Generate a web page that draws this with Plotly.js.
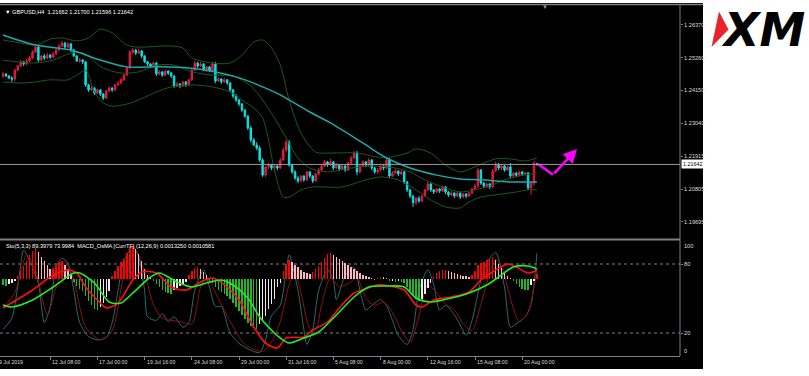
<!DOCTYPE html>
<html>
<head>
<meta charset="utf-8">
<script src="https://cdn.plot.ly/plotly-3.0.1.min.js"></script>
<style>
html,body{margin:0;padding:0;background:#ffffff;overflow:hidden;}
#chart{width:809px;height:376px;}
</style>
</head>
<body>
<div id="chart"></div>
<script>
// ================= DATA =================
const symbol = "GBPUSD,H4";

const open = [1.2464,1.2471,1.2464,1.2457,1.2454,1.2484,1.2498,1.2512,1.2505,1.2515,
 1.2525,1.2545,1.2562,1.2518,1.2532,1.2525,1.2535,1.2528,1.2539,1.2552,
 1.2566,1.2576,1.2562,1.2573,1.2552,1.2532,1.2515,1.2518,1.2512,1.2434,
 1.2417,1.2423,1.2406,1.2417,1.2403,1.2389,1.2413,1.2423,1.2417,1.2434,
 1.2440,1.2451,1.2467,1.2491,1.2545,1.2552,1.2542,1.2549,1.2532,1.2512,
 1.2505,1.2498,1.2508,1.2471,1.2478,1.2467,1.2481,1.2474,1.2464,1.2430,
 1.2437,1.2430,1.2444,1.2434,1.2451,1.2484,1.2508,1.2498,1.2505,1.2484,
 1.2495,1.2481,1.2505,1.2447,1.2454,1.2444,1.2451,1.2440,1.2417,1.2396,
 1.2383,1.2369,1.2349,1.2328,1.2288,1.2247,1.2230,1.2220,1.2179,1.2128,
 1.2156,1.2162,1.2152,1.2159,1.2152,1.2179,1.2213,1.2240,1.2162,1.2139,
 1.2118,1.2108,1.2125,1.2112,1.2139,1.2125,1.2108,1.2132,1.2145,1.2159,
 1.2173,1.2162,1.2173,1.2152,1.2162,1.2149,1.2159,1.2145,1.2169,1.2186,
 1.2203,1.2139,1.2159,1.2173,1.2162,1.2179,1.2152,1.2139,1.2145,1.2159,
 1.2152,1.2179,1.2125,1.2135,1.2142,1.2132,1.2139,1.2105,1.2078,1.2057,
 1.2034,1.2050,1.2040,1.2057,1.2078,1.2098,1.2078,1.2071,1.2081,1.2074,
 1.2088,1.2071,1.2061,1.2067,1.2057,1.2067,1.2054,1.2064,1.2057,1.2067,
 1.2081,1.2091,1.2145,1.2101,1.2091,1.2098,1.2088,1.2142,1.2166,1.2152,
 1.2159,1.2145,1.2156,1.2125,1.2135,1.2128,1.2139,1.2132,1.2135,1.2084,
 1.2101,1.21662];

const high = [1.2478,1.2474,1.2467,1.2464,1.2488,1.2501,1.2518,1.2515,1.2522,1.2532,
 1.2552,1.2569,1.2566,1.2535,1.2539,1.2542,1.2539,1.2545,1.2559,1.2573,
 1.2583,1.2579,1.2579,1.2576,1.2556,1.2535,1.2525,1.2522,1.2515,1.2437,
 1.2430,1.2427,1.2420,1.2420,1.2406,1.2417,1.2430,1.2427,1.2437,1.2447,
 1.2457,1.2471,1.2498,1.2552,1.2559,1.2556,1.2556,1.2552,1.2535,1.2515,
 1.2508,1.2512,1.2512,1.2484,1.2481,1.2484,1.2484,1.2478,1.2467,1.2444,
 1.2440,1.2447,1.2447,1.2454,1.2491,1.2515,1.2512,1.2512,1.2508,1.2498,
 1.2498,1.2512,1.2512,1.2461,1.2457,1.2457,1.2454,1.2444,1.2420,1.2403,
 1.2386,1.2373,1.2352,1.2332,1.2295,1.2254,1.2240,1.2227,1.2186,1.2159,
 1.2169,1.2166,1.2166,1.2162,1.2186,1.2220,1.2247,1.2247,1.2166,1.2145,
 1.2125,1.2128,1.2128,1.2142,1.2142,1.2128,1.2135,1.2152,1.2166,1.2179,
 1.2176,1.2183,1.2176,1.2169,1.2166,1.2166,1.2162,1.2173,1.2193,1.2210,
 1.2210,1.2162,1.2179,1.2176,1.2186,1.2183,1.2156,1.2152,1.2166,1.2162,
 1.2189,1.2186,1.2142,1.2149,1.2145,1.2145,1.2142,1.2108,1.2081,1.2061,
 1.2054,1.2057,1.2061,1.2081,1.2105,1.2101,1.2081,1.2084,1.2084,1.2091,
 1.2091,1.2074,1.2074,1.2071,1.2071,1.2071,1.2067,1.2067,1.2071,1.2084,
 1.2098,1.2152,1.2149,1.2105,1.2101,1.2101,1.2149,1.2173,1.2169,1.2162,
 1.2162,1.2159,1.2169,1.2139,1.2139,1.2142,1.2142,1.2139,1.2139,1.2105,
 1.2176,1.21700];

const low = [1.2457,1.2461,1.2454,1.2444,1.2447,1.2481,1.2495,1.2498,1.2501,1.2512,
 1.2522,1.2542,1.2512,1.2515,1.2518,1.2522,1.2522,1.2525,1.2535,1.2549,
 1.2562,1.2556,1.2559,1.2545,1.2528,1.2512,1.2508,1.2505,1.2427,1.2410,
 1.2413,1.2400,1.2403,1.2396,1.2383,1.2386,1.2410,1.2410,1.2413,1.2430,
 1.2437,1.2447,1.2464,1.2488,1.2539,1.2535,1.2539,1.2525,1.2508,1.2498,
 1.2491,1.2495,1.2464,1.2467,1.2461,1.2464,1.2467,1.2457,1.2423,1.2427,
 1.2423,1.2427,1.2427,1.2430,1.2447,1.2481,1.2491,1.2495,1.2481,1.2478,
 1.2478,1.2478,1.2440,1.2444,1.2437,1.2440,1.2434,1.2410,1.2389,1.2376,
 1.2362,1.2342,1.2322,1.2281,1.2240,1.2227,1.2213,1.2173,1.2122,1.2122,
 1.2149,1.2145,1.2145,1.2145,1.2149,1.2176,1.2206,1.2156,1.2132,1.2112,
 1.2101,1.2105,1.2105,1.2108,1.2118,1.2101,1.2105,1.2128,1.2142,1.2156,
 1.2156,1.2159,1.2145,1.2149,1.2142,1.2145,1.2139,1.2142,1.2166,1.2183,
 1.2128,1.2135,1.2156,1.2156,1.2159,1.2145,1.2132,1.2132,1.2142,1.2145,
 1.2149,1.2118,1.2122,1.2132,1.2125,1.2128,1.2098,1.2071,1.2050,1.2020,
 1.2027,1.2034,1.2037,1.2054,1.2074,1.2071,1.2064,1.2067,1.2067,1.2071,
 1.2064,1.2054,1.2057,1.2050,1.2054,1.2047,1.2050,1.2050,1.2054,1.2064,
 1.2078,1.2084,1.2095,1.2084,1.2084,1.2081,1.2084,1.2139,1.2145,1.2145,
 1.2139,1.2142,1.2118,1.2122,1.2122,1.2125,1.2125,1.2128,1.2078,1.2061,
 1.2091,1.21596];

const close = [1.2471,1.2464,1.2457,1.2454,1.2484,1.2498,1.2512,1.2505,1.2515,1.2525,
 1.2545,1.2562,1.2518,1.2532,1.2525,1.2535,1.2528,1.2539,1.2552,1.2566,
 1.2576,1.2562,1.2573,1.2552,1.2532,1.2515,1.2518,1.2512,1.2434,1.2417,
 1.2423,1.2406,1.2417,1.2403,1.2389,1.2413,1.2423,1.2417,1.2434,1.2440,
 1.2451,1.2467,1.2491,1.2545,1.2552,1.2542,1.2549,1.2532,1.2512,1.2505,
 1.2498,1.2508,1.2471,1.2478,1.2467,1.2481,1.2474,1.2464,1.2430,1.2437,
 1.2430,1.2444,1.2434,1.2451,1.2484,1.2508,1.2498,1.2505,1.2484,1.2495,
 1.2481,1.2505,1.2447,1.2454,1.2444,1.2451,1.2440,1.2417,1.2396,1.2383,
 1.2369,1.2349,1.2328,1.2288,1.2247,1.2230,1.2220,1.2179,1.2128,1.2156,
 1.2162,1.2152,1.2159,1.2152,1.2179,1.2213,1.2240,1.2162,1.2139,1.2118,
 1.2108,1.2125,1.2112,1.2139,1.2125,1.2108,1.2132,1.2145,1.2159,1.2173,
 1.2162,1.2173,1.2152,1.2162,1.2149,1.2159,1.2145,1.2169,1.2186,1.2203,
 1.2139,1.2159,1.2173,1.2162,1.2179,1.2152,1.2139,1.2145,1.2159,1.2152,
 1.2179,1.2125,1.2135,1.2142,1.2132,1.2139,1.2105,1.2078,1.2057,1.2034,
 1.2050,1.2040,1.2057,1.2078,1.2098,1.2078,1.2071,1.2081,1.2074,1.2088,
 1.2071,1.2061,1.2067,1.2057,1.2067,1.2054,1.2064,1.2057,1.2067,1.2081,
 1.2091,1.2145,1.2101,1.2091,1.2098,1.2088,1.2142,1.2166,1.2152,1.2159,
 1.2145,1.2156,1.2125,1.2135,1.2128,1.2139,1.2132,1.2135,1.2084,1.2101,
 1.2169,1.21642];

// Bollinger bands (upper / middle / lower), sampled at bar positions
const bbUpperBars = [0,6,11,16,20,25,29,33,37,42,46,56,61,64,71,77,81,85,88,91,94,97,101,106,111,120,127,131,137,140,145,150,155,159,163,167,172,177,181];
const bbUpper = [1.2586,1.2576,1.2569,1.2589,1.2593,1.2583,1.2593,1.2623,1.2610,1.2569,1.2562,1.2566,1.2559,1.2525,1.2508,1.2508,1.2535,1.2579,1.2586,1.2559,1.2501,1.2383,1.2271,1.2206,1.2203,1.2203,1.2189,1.2189,1.2203,1.2217,1.2203,1.2162,1.2139,1.2152,1.2169,1.2183,1.2183,1.2176,1.2186];
const bbMidBars = [0,10,17,23,28,31,34,40,46,52,58,64,71,78,84,88,92,96,100,104,110,118,126,133,138,143,150,155,160,165,170,175,181];
const bbMid = [1.2518,1.2508,1.2518,1.2542,1.2539,1.2512,1.2491,1.2474,1.2478,1.2501,1.2501,1.2478,1.2467,1.2464,1.2430,1.2383,1.2322,1.2254,1.2186,1.2152,1.2139,1.2152,1.2159,1.2152,1.2139,1.2112,1.2084,1.2071,1.2078,1.2091,1.2112,1.2125,1.2135];
const bbLowerBars = [0,6,11,16,22,25,28,31,34,37,42,46,52,57,64,71,77,81,85,88,90,92,95,97,101,105,115,123,128,134,140,145,150,155,158,162,167,174,178,181];
const bbLower = [1.2444,1.2440,1.2444,1.2451,1.2451,1.2467,1.2484,1.2410,1.2373,1.2362,1.2369,1.2383,1.2410,1.2427,1.2434,1.2427,1.2410,1.2383,1.2356,1.2322,1.2247,1.2145,1.2054,1.2054,1.2078,1.2088,1.2088,1.2112,1.2122,1.2112,1.2078,1.2044,1.2020,1.2017,1.2037,1.2054,1.2061,1.2071,1.2078,1.2078];

// Long moving average (cyan)
const maBars = [0,11,23,33,42,53,63,72,79,85,94,97,104,111,122,130,138,147,155,162,172,181];
const maVals = [1.2603,1.2569,1.2552,1.2518,1.2495,1.2495,1.2491,1.2478,1.2461,1.2440,1.2400,1.2383,1.2342,1.2305,1.2237,1.2186,1.2152,1.2128,1.2115,1.2112,1.2105,1.2105];

// Magenta forecast arrow
const arrowBars = [181.4, 186.4, 194.6];
const arrowPrices = [1.2166, 1.2129, 1.2217];

// Stochastic (5,3,3)
const stoMainBars = [0,3,5,7,9,12,14,16,18,20,22,24,26,29,32,35,37,39,41,44,46,48,49,52,54,56,58,61,63,65,68,70,72,74,77,80,84,87,89,91,94,96,97,100,102,103,105,107,110,112,113,116,119,121,123,125,128,130,132,134,137,139,141,144,146,148,150,153,155,157,159,162,164,167,170,172,174,177,179,181];
const stoMain = [23,33,60,92,83,63,29,43,77,85,81,57,29,17,14,16,29,57,83,95,86,57,34,31,37,30,34,25,29,57,75,60,43,43,20,11,5,3,14,35,44,75,88,57,23,10,23,57,75,66,49,70,77,57,40,44,49,44,31,18,10,23,57,75,62,40,44,36,27,18,31,66,81,90,60,25,28,34,45,89.3979];
const stoSignalBars = [0,4,8,11,15,18,21,24,28,33,37,41,45,48,51,54,60,64,67,69,73,77,82,88,91,94,97,99,101,104,106,108,111,114,117,120,123,126,129,132,135,138,141,144,147,150,153,156,159,162,165,167,169,172,175,178,180,181];
const stoSignal = [42,55,88,75,36,60,82,66,25,14,22,70,92,72,45,33,30,28,60,68,50,30,10,4,12,30,62,72,55,24,22,45,68,60,63,68,50,44,47,38,22,12,35,62,55,45,40,28,22,45,72,84,78,50,30,38,60,73.9984];
const stoLevels = [80, 20];

// MACD_OsMA (12,26,9)
const osma = [-0.0009,-0.00105,-0.00075,-0.0006,-0.0003,0.00045,0.0012,0.00195,0.0027,0.0036,
 0.0042,0.00465,0.00405,0.0033,0.0027,0.0021,0.0015,0.00165,0.0021,0.00255,
 0.0027,0.0021,0.0015,0.00075,-0.00045,-0.00105,-0.0015,-0.0018,-0.00255,-0.0033,
 -0.0039,-0.0045,-0.00465,-0.0042,-0.0036,-0.0027,-0.0018,0.00045,0.0012,0.00195,
 0.00255,0.003,0.0039,0.0048,0.00495,0.0045,0.00375,0.0027,0.0015,0.0006,
 0.00015,-0.0003,-0.00075,-0.0012,-0.00165,-0.00195,-0.0021,-0.00225,-0.00165,-0.00135,
 -0.00105,-0.00075,-0.00045,0.0006,0.0012,0.00165,0.0018,0.0015,0.00105,0.0006,
 -0.0003,-0.0006,-0.0012,-0.00165,-0.00195,-0.00225,-0.00255,-0.003,-0.0036,-0.0042,
 -0.0048,-0.0054,-0.006,-0.0066,-0.00705,-0.00735,-0.0075,-0.00675,-0.00615,-0.00555,
 -0.0045,-0.00375,-0.003,-0.0012,-0.0006,0.0012,0.00225,0.00285,0.00255,0.0021,
 0.0018,0.00135,0.00105,0.0009,0.00075,0.00105,0.0015,0.00195,0.00255,0.00315,
 0.00375,0.0039,0.0036,0.0033,0.003,0.0027,0.0024,0.0021,0.0018,0.0015,
 0.0012,0.0009,0.0006,0.00045,0.0003,0.00015,-0.00015,0.00015,0.0003,0.00025,
 0.00015,-0.0003,-0.00025,-0.00045,-0.0003,-0.00045,-0.0006,-0.0012,-0.0018,-0.0024,
 -0.003,-0.0033,-0.003,-0.00225,-0.00135,-0.0006,0.00045,0.0009,0.0012,0.00135,
 0.0014,0.0012,0.00105,0.0009,0.00075,0.0006,0.00045,0.0004,0.0003,0.0006,
 0.0012,0.0021,0.0024,0.00255,0.00285,0.00315,0.0033,0.00285,0.00225,0.00165,
 0.00105,0.00045,0.00015,-0.0003,-0.00075,-0.0012,-0.0015,-0.00165,-0.0017,-0.0009,
 -0.0003,0.00075];
const macdRedBars = [0,10,16,22,25,28,33,35,39,44,47,52,57,62,67,71,76,80,85,89,93,96,102,105,110,114,119,122,127,131,136,140,142,146,152,158,162,166,171,174,178,181];
const macdRed = [-0.00435,-0.00165,0.0003,0.00135,0.0009,-0.0012,-0.0036,-0.00435,-0.0036,-0.00015,0.00105,0.0009,-0.0012,-0.00165,-0.00045,0.00015,-0.0012,-0.00315,-0.0072,-0.0096,-0.01035,-0.00885,-0.0087,-0.00765,-0.00645,-0.00435,-0.0021,-0.00165,-0.0009,-0.00105,-0.00165,-0.0039,-0.0042,-0.00315,-0.0027,-0.00195,-0.00015,0.00105,0.00225,0.0018,0.0009,0.0013250];
const macdGreenBars = [0,3,10,17,24,26,31,36,40,44,50,53,59,64,69,74,78,83,87,92,94,97,102,107,113,119,124,130,136,140,145,152,158,164,168,173,178,181];
const macdGreen = [-0.0039,-0.0042,-0.00315,-0.0012,0.0009,0.0009,-0.0006,-0.00345,-0.0036,-0.0021,0.0003,0.0009,-0.00045,-0.0012,-0.0006,-0.00015,-0.0009,-0.00285,-0.0057,-0.0081,-0.00885,-0.0096,-0.00885,-0.00795,-0.0054,-0.0027,-0.0012,-0.00105,-0.0012,-0.00285,-0.00345,-0.00285,-0.0021,-0.0009,0.0003,0.0018,0.00195,0.0015];

// Axis labels
const priceTicks = [1.26370,1.25260,1.24150,1.23040,1.21915,1.20805,1.19695];
const timeLabelBars = [16,32,48,64,80,96,112,128,144,160,176];
const timeLabels = ["12 Jul 08:00","17 Jul 00:00","19 Jul 16:00","24 Jul 08:00","29 Jul 00:00","31 Jul 16:00","5 Aug 08:00","8 Aug 00:00","12 Aug 16:00","15 Aug 08:00","20 Aug 00:00"];
const firstDateLabel = "9 Jul 2019";
const indicatorHeader = "Sto(5,3,3) 89.3979 73.9984  MACD_OsMA [CurrTF] (12,26,9) 0.0013250 0.0010581";

// ================= CHART =================
const barIndex = close.map((c, i) => i);
const W = 809, H = 376;
const fx = p => p / W;
const fy = p => 1 - p / H;
const plotRight = 680;
const SMALL = "Liberation Sans, Arial, sans-serif";
const TXT = "#dcdcdc";
const GRID = "#808080";

const last = close.length - 1;

const histColors = osma.map((v, i) => {
  const prev = i > 0 ? osma[i - 1] : v;
  if (v >= 0) return v >= prev ? "#ff0000" : "#ffb4c2";
  return (i === 0 || v < prev) ? "#28b428" : "#ececec";
});

const bbLine = { color: "#1c5a1c", width: 1, shape: "spline", smoothing: 0.8 };

const traces = [
  { type: "candlestick", x: barIndex, open: open, high: high, low: low, close: close,
    xaxis: "x", yaxis: "y", whiskerwidth: 0, hoverinfo: "skip",
    increasing: { line: { color: "#e8173f", width: 1 }, fillcolor: "#e8173f" },
    decreasing: { line: { color: "#00e6e6", width: 1 }, fillcolor: "#00e6e6" } },
  { type: "scatter", mode: "lines", x: bbUpperBars, y: bbUpper, line: bbLine, xaxis: "x", yaxis: "y", hoverinfo: "skip" },
  { type: "scatter", mode: "lines", x: bbMidBars, y: bbMid, line: bbLine, xaxis: "x", yaxis: "y", hoverinfo: "skip" },
  { type: "scatter", mode: "lines", x: bbLowerBars, y: bbLower, line: bbLine, xaxis: "x", yaxis: "y", hoverinfo: "skip" },
  { type: "scatter", mode: "lines", x: maBars, y: maVals, line: { color: "#1aa9ad", width: 1.5, shape: "spline", smoothing: 0.8 }, xaxis: "x", yaxis: "y", hoverinfo: "skip" },
  { type: "scatter", mode: "lines", x: arrowBars.slice(0, 2), y: arrowPrices.slice(0, 2), line: { color: "#ff00ff", width: 2.5 }, xaxis: "x", yaxis: "y", hoverinfo: "skip" },
  // lower panel
  { type: "scatter", mode: "lines", x: stoMainBars, y: stoMain, line: { color: "#2c6a6a", width: 1, shape: "spline", smoothing: 0.7 }, xaxis: "x", yaxis: "y2", hoverinfo: "skip" },
  { type: "scatter", mode: "lines", x: stoSignalBars, y: stoSignal, line: { color: "#8e1212", width: 1, shape: "spline", smoothing: 0.7 }, xaxis: "x", yaxis: "y2", hoverinfo: "skip" },
  { type: "bar", x: barIndex, y: osma, width: 0.5, marker: { color: histColors, line: { width: 0 } }, xaxis: "x", yaxis: "y3", hoverinfo: "skip" },
  { type: "scatter", mode: "lines", x: macdRedBars, y: macdRed, line: { color: "#ff1010", width: 1.6, shape: "spline", smoothing: 0.8 }, xaxis: "x", yaxis: "y4", hoverinfo: "skip" },
  { type: "scatter", mode: "lines", x: macdGreenBars, y: macdGreen, line: { color: "#22ee22", width: 1.6, shape: "spline", smoothing: 0.8 }, xaxis: "x", yaxis: "y4", hoverinfo: "skip" }
];

const pxPerBar = 2.95, firstBarPx = 3;
const xRange = [-firstBarPx / pxPerBar, (plotRight - firstBarPx) / pxPerBar];
const pricePerPx = 0.000339, priceAtTop = 1.27217;
const yRange = [priceAtTop - 238 * pricePerPx, priceAtTop - 5 * pricePerPx];
const macdRange = [-0.01155, 0.0057];

const annotations = [
  { xref: "paper", yref: "paper", x: fx(3), y: fy(12), xanchor: "left", yanchor: "middle", showarrow: false,
    text: "\u25BC " + symbol + "\u00A0 " + open[last].toFixed(5) + " " + high[last].toFixed(5) + " " + low[last].toFixed(5) + " " + close[last].toFixed(5),
    font: { family: SMALL, size: 5.6, color: "#ffffff" } },
  { xref: "paper", yref: "paper", x: fx(4), y: fy(246), xanchor: "left", yanchor: "middle", showarrow: false,
    text: indicatorHeader, font: { family: SMALL, size: 5.6, color: "#ffffff" } },
  { xref: "paper", yref: "paper", x: fx(-3), y: fy(362), xanchor: "left", yanchor: "middle", showarrow: false,
    text: firstDateLabel, font: { family: SMALL, size: 5.2, color: TXT } },
  { xref: "paper", yref: "y2", x: fx(682), y: 100, xanchor: "left", yanchor: "top", showarrow: false,
    text: "100", font: { family: SMALL, size: 5.6, color: TXT } },
  { xref: "paper", yref: "y2", x: fx(682), y: 0, xanchor: "left", yanchor: "bottom", showarrow: false,
    text: "0", font: { family: SMALL, size: 5.6, color: TXT } },
  { xref: "paper", yref: "y", x: fx(681), y: close[last], xanchor: "left", yanchor: "middle", showarrow: false,
    text: close[last].toFixed(5), bgcolor: "#ffffff", borderpad: 1, font: { family: SMALL, size: 5.4, color: "#000000" } },
  { xref: "paper", yref: "paper", x: fx(545), y: fy(7), xanchor: "center", yanchor: "middle", showarrow: false,
    text: "\u25BC", font: { family: SMALL, size: 6, color: "#9a9a9a" } },
  { xref: "x", yref: "y", x: arrowBars[2], y: arrowPrices[2], ax: arrowBars[1], ay: arrowPrices[1],
    axref: "x", ayref: "y", showarrow: true, arrowhead: 2, arrowsize: 1.1, arrowwidth: 2.5, arrowcolor: "#ff00ff", text: "" },
  { xref: "paper", yref: "paper", x: fx(763), y: fy(30), xanchor: "center", yanchor: "middle", showarrow: false,
    text: "<b><i>XM</i></b>", font: { family: "DejaVu Sans, Liberation Sans, sans-serif", size: 46, color: "#000000" } }
];
timeLabelBars.forEach((b, i) => {
  annotations.push({ xref: "x", yref: "paper", x: b, y: fy(362), xanchor: "left", yanchor: "middle", showarrow: false,
    text: timeLabels[i], font: { family: SMALL, size: 5.2, color: TXT } });
});

const shapes = [
  { type: "rect", xref: "paper", yref: "paper", x0: 0, x1: fx(703), y0: fy(369), y1: fy(3), fillcolor: "#000000", line: { width: 0 }, layer: "below" },
  { type: "line", xref: "paper", yref: "paper", x0: 0, x1: fx(703), y0: fy(4.5), y1: fy(4.5), line: { color: GRID, width: 1.5 }, layer: "above" },
  { type: "line", xref: "paper", yref: "paper", x0: 0, x1: fx(plotRight), y0: fy(239.5), y1: fy(239.5), line: { color: GRID, width: 2 }, layer: "above" },
  { type: "line", xref: "paper", yref: "paper", x0: fx(plotRight), x1: fx(plotRight), y0: fy(356), y1: fy(5), line: { color: GRID, width: 1 }, layer: "above" },
  { type: "line", xref: "paper", yref: "y", x0: 0, x1: fx(plotRight), y0: close[last], y1: close[last], line: { color: "#9a9a9a", width: 1 }, layer: "above" },
  { type: "path", xref: "paper", yref: "paper",
    path: "M " + fx(719) + " " + fy(11.5) + " L " + fx(728.5) + " " + fy(29.5) + " L " + fx(711.5) + " " + fy(47) + " Z",
    fillcolor: "#e8232a", line: { width: 0 }, layer: "above" }
];
stoLevels.forEach(v => {
  shapes.push({ type: "line", xref: "paper", yref: "y2", x0: 0, x1: fx(plotRight), y0: v, y1: v,
    line: { color: GRID, width: 1, dash: "dot" }, layer: "below" });
});

const axisFont = { family: SMALL, size: 5.6, color: TXT };

const layout = {
  width: W, height: H,
  margin: { l: 0, r: 0, t: 0, b: 0, pad: 0 },
  paper_bgcolor: "#ffffff",
  plot_bgcolor: "#000000",
  showlegend: false,
  hovermode: false,
  bargap: 0,
  xaxis: {
    domain: [0, fx(plotRight)], range: xRange, anchor: "y2",
    showgrid: false, zeroline: false, showline: true, linecolor: GRID, linewidth: 1,
    ticks: "outside", ticklen: 3, tickcolor: GRID, tickmode: "array", tickvals: timeLabelBars,
    showticklabels: false, rangeslider: { visible: false }, fixedrange: true
  },
  yaxis: {
    domain: [fy(238), fy(5)], range: yRange, anchor: "x", side: "right",
    showgrid: false, zeroline: false, showline: false,
    ticks: "outside", ticklen: 2, tickcolor: GRID, tickmode: "array",
    tickvals: priceTicks, ticktext: priceTicks.map(v => v.toFixed(5)),
    tickfont: axisFont, ticklabelstandoff: 0, fixedrange: true
  },
  yaxis2: {
    domain: [fy(356), fy(241)], range: [0, 100], anchor: "x", side: "right",
    showgrid: false, zeroline: false, showline: false,
    ticks: "outside", ticklen: 2, tickcolor: GRID, tickmode: "array",
    tickvals: stoLevels, ticktext: stoLevels.map(String),
    tickfont: axisFont, ticklabelstandoff: 0, fixedrange: true
  },
  yaxis3: { overlaying: "y2", range: macdRange, visible: false, fixedrange: true },
  yaxis4: { overlaying: "y2", range: macdRange, visible: false, fixedrange: true },
  annotations: annotations,
  shapes: shapes
};

Plotly.newPlot("chart", traces, layout, { staticPlot: true, displayModeBar: false });
</script>
</body>
</html>
